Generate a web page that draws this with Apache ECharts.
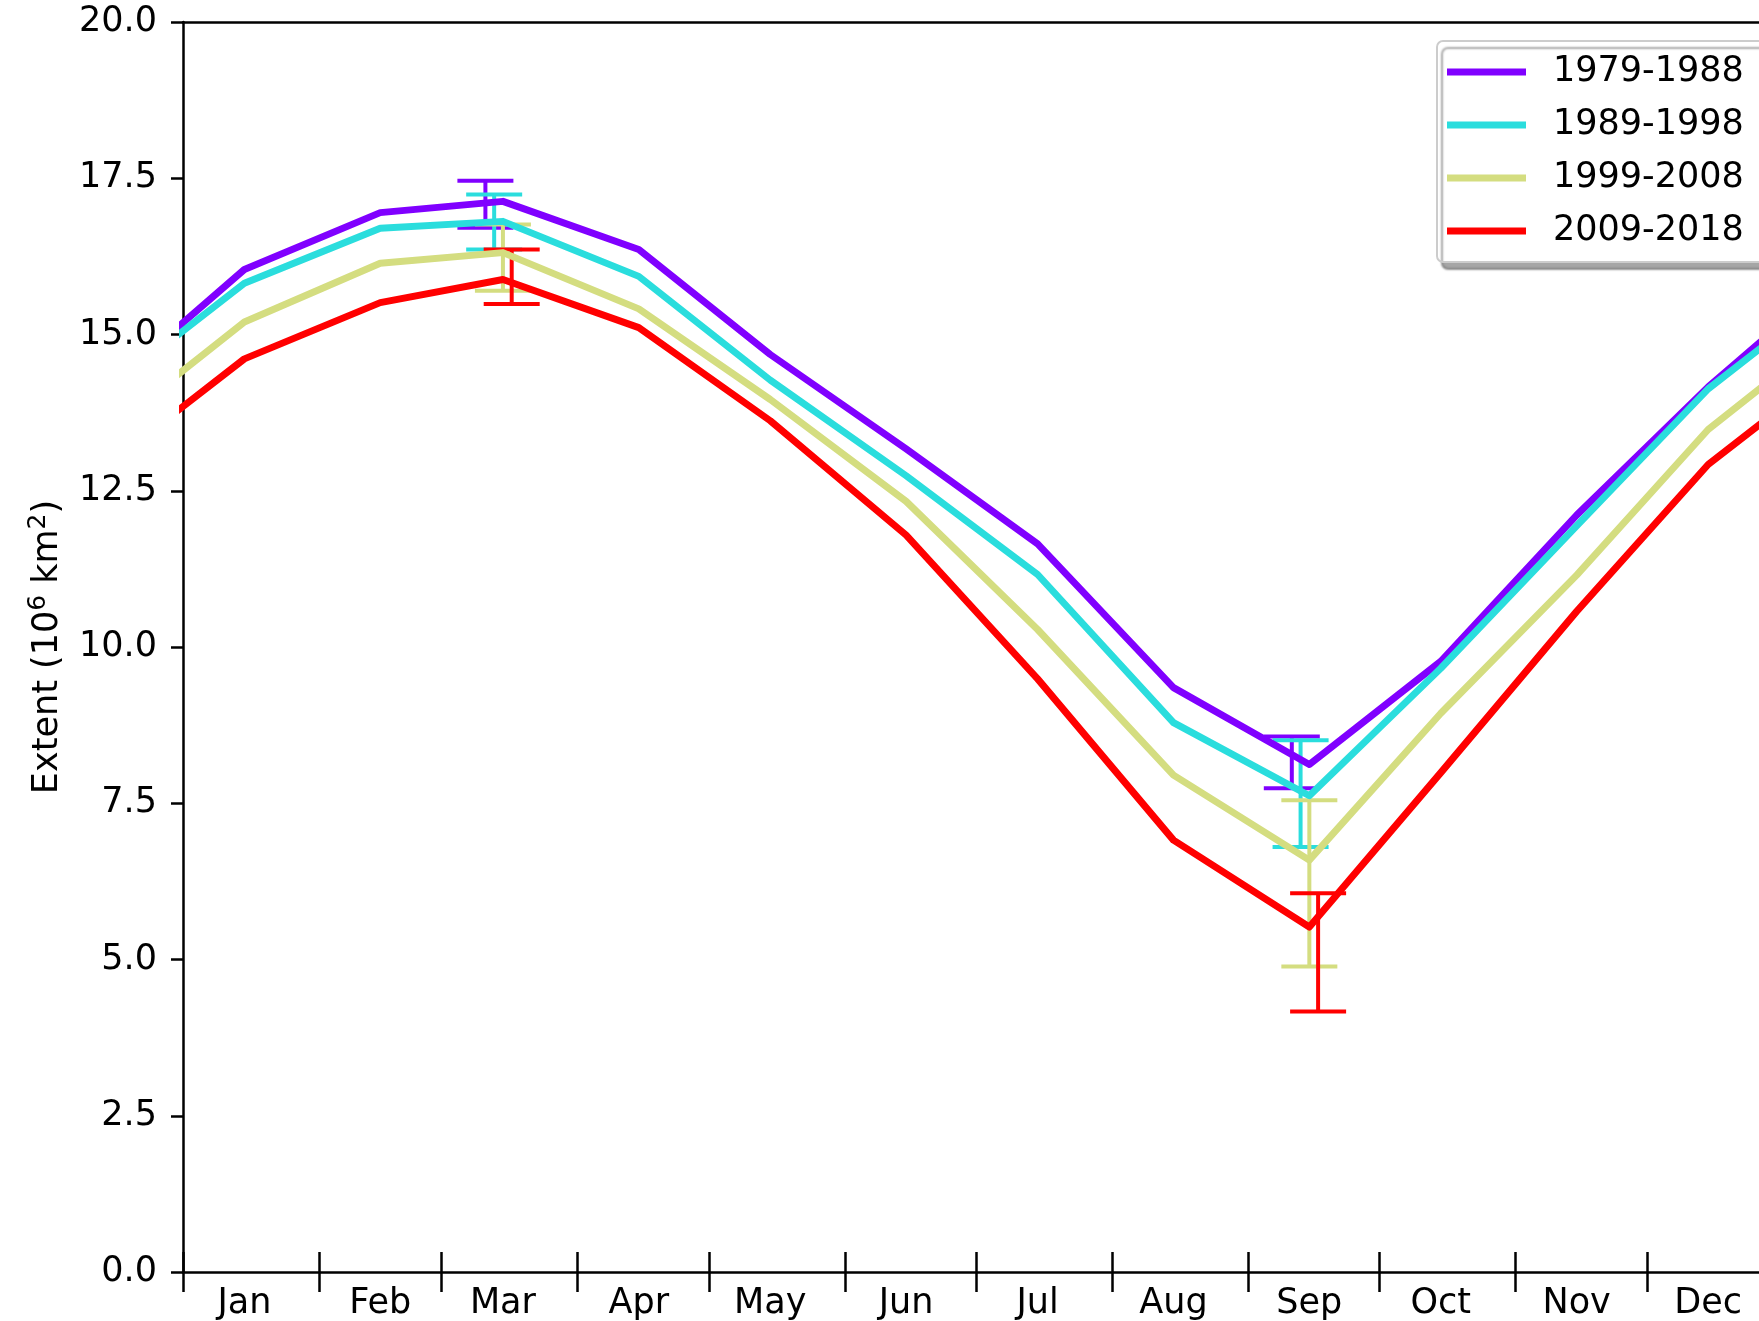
<!DOCTYPE html>
<html>
<head>
<meta charset="utf-8">
<script src="https://cdn.jsdelivr.net/npm/echarts@6/dist/echarts.min.js"></script>
<style>
  html, body { margin: 0; padding: 0; background: #ffffff; }
  #chart { width: 1759px; height: 1321px; }
</style>
</head>
<body>
<div id="chart"></div>
<script>
// Month labels and day-of-year positions (0-based)
const months = ['Jan', 'Feb', 'Mar', 'Apr', 'May', 'Jun', 'Jul', 'Aug', 'Sep', 'Oct', 'Nov', 'Dec'];
const monthStarts = [0, 31, 59, 90, 120, 151, 181, 212, 243, 273, 304, 334];
const midDays = [14, 45, 73, 104, 134, 165, 195, 226, 257, 287, 318, 348];
const yTicks = [0, 2.5, 5, 7.5, 10, 12.5, 15, 17.5, 20];

// Decadal mean monthly extent (10^6 km^2)
const decades = ['1979-1988', '1989-1998', '1999-2008', '2009-2018'];
const ext1979 = [16.04, 16.95, 17.13, 16.36, 14.68, 13.17, 11.65, 9.35, 8.12, 9.77, 12.11, 14.16];
const ext1989 = [15.82, 16.70, 16.81, 15.93, 14.27, 12.74, 11.16, 8.79, 7.62, 9.66, 11.94, 14.13];
const ext1999 = [15.20, 16.14, 16.31, 15.41, 13.96, 12.33, 10.28, 7.95, 6.59, 8.94, 11.15, 13.48];
const ext2009 = [14.61, 15.51, 15.88, 15.11, 13.62, 11.79, 9.49, 6.91, 5.52, 7.99, 10.57, 12.92];

// Spread at the March maximum and September minimum: [low, high]
const errMonthIdx = [2, 8];
const err1979 = [[16.71, 17.46], [7.74, 8.57]];
const err1989 = [[16.36, 17.24], [6.80, 8.51]];
const err1999 = [[15.70, 16.76], [4.89, 7.55]];
const err2009 = [[15.49, 16.36], [4.17, 6.06]];

const seriesValues = [ext1979, ext1989, ext1999, ext2009];
const seriesErrors = [err1979, err1989, err1999, err2009];
const colors = ['#8000ff', '#2adddd', '#d4dd80', '#ff0000'];
const errShift = [-4, -2, 0, 2]; // small horizontal dodge of the bars, in days

const FONT = 'DejaVu Sans';
const X_MAX = 359.6; // visible part of the year

// Wrap December/January around the year ends so the curve runs through the edges
function cyclic(vals) {
  const pts = [[midDays[11] - 365, vals[11]]];
  midDays.forEach((d, i) => pts.push([d, vals[i]]));
  pts.push([midDays[0] + 365, vals[0]]);
  return pts;
}

const series = [];
seriesValues.forEach((vals, k) => {
  series.push({
    name: decades[k],
    type: 'line',
    xAxisIndex: 0,
    data: cyclic(vals),
    showSymbol: false,
    symbol: 'none',
    clip: true,
    lineStyle: { color: colors[k], width: 7, join: 'round', cap: 'butt' },
    itemStyle: { color: colors[k] },
    animation: false
  });
  const errData = errMonthIdx.map((m, j) => [midDays[m] + errShift[k], seriesErrors[k][j][0], seriesErrors[k][j][1]]);
  series.push({
    name: decades[k] + ' spread',
    type: 'custom',
    xAxisIndex: 0,
    data: errData,
    encode: { x: 0, y: [1, 2] },
    animation: false,
    renderItem: function (params, api) {
      const x = api.value(0);
      const lo = api.coord([x, api.value(1)]);
      const hi = api.coord([x, api.value(2)]);
      const w = 28;
      const style = { stroke: colors[k], lineWidth: 4, fill: null };
      return {
        type: 'group',
        children: [
          { type: 'line', shape: { x1: lo[0], y1: lo[1], x2: hi[0], y2: hi[1] }, style: style },
          { type: 'line', shape: { x1: lo[0] - w, y1: lo[1], x2: lo[0] + w, y2: lo[1] }, style: style },
          { type: 'line', shape: { x1: hi[0] - w, y1: hi[1], x2: hi[0] + w, y2: hi[1] }, style: style }
        ]
      };
    }
  });
});

const axisLineStyle = { color: '#000', width: 2.5 };

const option = {
  backgroundColor: '#ffffff',
  animation: false,
  textStyle: { fontFamily: FONT },
  grid: { left: 183, top: 22, right: 0, height: 1252, show: false },
  legend: {
    data: decades.map((d, k) => ({ name: d, icon: 'rect', itemStyle: { color: colors[k] } })),
    orient: 'vertical',
    left: 1437,
    top: 41,
    itemWidth: 79,
    itemHeight: 7,
    itemGap: 13,
    padding: [11, 40, 11, 10],
    backgroundColor: '#ffffff',
    borderColor: '#cccccc',
    borderWidth: 2,
    borderRadius: 6,
    shadowColor: 'rgba(0,0,0,0.35)',
    shadowBlur: 2,
    shadowOffsetX: 5,
    shadowOffsetY: 7,
    textStyle: { fontFamily: FONT, fontSize: 35, color: '#000', lineHeight: 40, padding: [0, 0, 0, 22] }
  },
  xAxis: [
    {
      type: 'value', min: 0, max: X_MAX, position: 'bottom',
      axisLine: { show: true, lineStyle: axisLineStyle },
      axisTick: { show: true, inside: false, length: 20, lineStyle: axisLineStyle, customValues: monthStarts },
      axisLabel: {
        show: true, customValues: midDays, margin: 14,
        fontFamily: FONT, fontSize: 35, color: '#000',
        formatter: function (v) { return months[midDays.indexOf(v)]; }
      },
      splitLine: { show: false }
    },
    {
      type: 'value', min: 0, max: X_MAX, position: 'bottom',
      axisLine: { show: false },
      axisTick: { show: true, inside: true, length: 20, lineStyle: axisLineStyle, customValues: monthStarts },
      axisLabel: { show: false },
      splitLine: { show: false }
    },
    {
      // top frame line
      type: 'value', min: 0, max: X_MAX, position: 'top',
      axisLine: { show: true, lineStyle: axisLineStyle },
      axisTick: { show: false },
      axisLabel: { show: false },
      splitLine: { show: false }
    }
  ],
  yAxis: {
    type: 'value', min: 0, max: 20, interval: 2.5,
    axisLine: { show: true, lineStyle: axisLineStyle },
    axisTick: { show: true, inside: false, length: 12, lineStyle: axisLineStyle, customValues: yTicks },
    axisLabel: {
      margin: 26, fontFamily: FONT, fontSize: 35, color: '#000',
      customValues: yTicks,
      formatter: function (v) { return v.toFixed(1); }
    },
    splitLine: { show: false },
    name: '{a|Extent (10}{s|6}{a| km}{s|2}{a|)}',
    nameLocation: 'middle',
    nameGap: 113,
    nameRotate: 90,
    nameTextStyle: {
      fontFamily: FONT,
      rich: {
        a: { fontFamily: FONT, fontSize: 35, color: '#000', lineHeight: 44 },
        s: { fontFamily: FONT, fontSize: 25, color: '#000', lineHeight: 30, verticalAlign: 'top' }
      }
    }
  },
  series: series
};

const chart = echarts.init(document.getElementById('chart'), null, { renderer: 'canvas' });
chart.setOption(option);
</script>
</body>
</html>
